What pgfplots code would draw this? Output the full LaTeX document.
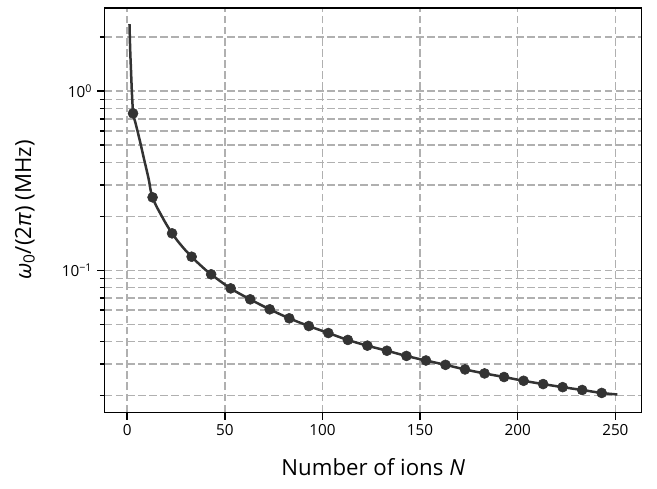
\documentclass[border=0pt]{standalone}
\usepackage{pgfplots}
\pgfplotsset{compat=1.18}
\usepackage{fontspec}
\setmainfont{Open Sans}

\definecolor{dark}{RGB}{51,51,51}
\definecolor{gridgray}{RGB}{176,176,176}

\begin{document}
\begin{tikzpicture}
    \begin{axis}[
        name=main,
        scale only axis,
        width=386.6pt,
        height=291pt,
        ymode=log,
        xmin=-11.5, xmax=263.5,
        ymin=0.01615, ymax=2.905,
        xtick={0,50,100,150,200,250},
        ytick={0.1,1},
        yticklabels={10\textsuperscript{−1},10\textsuperscript{0}},
        minor ytick={0.02,0.03,0.04,0.05,0.06,0.07,0.08,0.09,0.2,0.3,0.4,0.5,0.6,0.7,0.8,0.9,2},
        tick align=outside,
        xtick pos=bottom,
        ytick pos=left,
        major tick length=5.5pt,
        minor tick length=3.5pt,
        every tick/.style={black, line width=1pt},
        axis line style={line width=1.1pt},
        xmajorgrids=true,
        ymajorgrids=true,
        yminorgrids=true,
        major grid style={gridgray, line width=1.1pt, dash pattern=on 5.5pt off 2.5pt},
        minor grid style={gridgray, line width=1.1pt, dash pattern=on 5.5pt off 2.5pt},
        /pgf/number format/assume math mode=true,
        tick label style={font=\fontsize{11}{13}\selectfont},
        label style={font=\fontsize{16}{19}\selectfont},
        xlabel={Number of ions \textit{N}},
        ylabel={\textit{ω}\textsubscript{0}/(2\textit{π}) (MHz)},
        xlabel style={at={(axis description cs:0.5,0)}, anchor=center, yshift=-39.4pt},
        ylabel style={at={(axis description cs:0,0.5)}, anchor=center, yshift=57.5pt},
    ]
        % fitted curve
        \addplot[dark, line width=1.8pt, smooth, tension=0.7, mark=none] coordinates {
            (1.18,2.364) (1.54,1.694) (1.95,1.310) (2.36,1.013) (2.72,0.846)
            (3.03,0.754) (3.49,0.711) (4.26,0.663) (5.54,0.583) (6.82,0.510)
            (8.51,0.423) (10.9,0.327) (13,0.2554) (18,0.198) (23,0.1608)
            (28,0.1365) (33,0.1191) (38,0.1056) (43,0.0950) (53,0.0793)
            (63,0.0689) (73,0.0606) (83,0.0540) (93,0.0489) (103,0.0447)
            (113,0.0409) (123,0.0380) (133,0.0356) (143,0.0333) (153,0.0314)
            (163,0.0297) (173,0.0280) (183,0.0266) (193,0.0254) (203,0.0242)
            (213,0.0232) (223,0.0223) (233,0.0215) (243,0.0207) (251,0.0203)
        };
        % computed frequencies
        \addplot[only marks, mark=*, mark size=3.6pt, dark, mark options={fill=dark, draw=dark}] coordinates {
            (3,0.751) (13,0.2554) (23,0.1608) (33,0.1191) (43,0.0950)
            (53,0.0793) (63,0.0689) (73,0.0606) (83,0.0540) (93,0.0489)
            (103,0.0447) (113,0.0409) (123,0.0380) (133,0.0356) (143,0.0333)
            (153,0.0314) (163,0.0297) (173,0.0280) (183,0.0266) (193,0.0254)
            (203,0.0242) (213,0.0232) (223,0.0223) (233,0.0215) (243,0.0207)
        };
    \end{axis}
    \pgfresetboundingbox
    \path ([shift={(-75.4pt,-55.2pt)}]main.south west) rectangle ([shift={(11pt,5.8pt)}]main.north east);
\end{tikzpicture}
\end{document}
